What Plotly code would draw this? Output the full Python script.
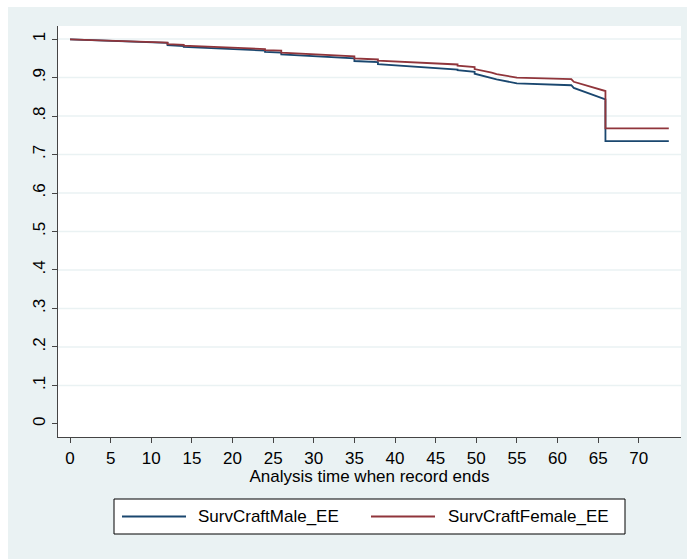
import plotly.graph_objects as go

# Survival estimates (repeated times mark vertical drops)
time_pts = [0, 12, 12, 14, 14, 24, 24, 26, 26, 35, 35, 37.9, 37.9, 47.7, 47.7, 49.8, 49.8,
            50.6, 51.9, 52.5, 55, 61.7, 62, 65.9, 65.9, 73.7]
male_s = [0.999, 0.990, 0.984, 0.982, 0.980, 0.970, 0.967, 0.965, 0.960, 0.950, 0.943, 0.940, 0.935,
          0.921, 0.919, 0.915, 0.910, 0.906, 0.900, 0.895, 0.885, 0.880, 0.873, 0.843, 0.735, 0.735]
female_s = [0.999, 0.991, 0.987, 0.985, 0.983, 0.974, 0.971, 0.970, 0.965, 0.955, 0.950, 0.947, 0.944,
            0.934, 0.931, 0.927, 0.922, 0.919, 0.913, 0.909, 0.900, 0.896, 0.889, 0.865, 0.768, 0.768]
series_names = ["SurvCraftMale_EE", "SurvCraftFemale_EE"]

x_ticks = list(range(0, 75, 5))
y_ticks = [0, 0.1, 0.2, 0.3, 0.4, 0.5, 0.6, 0.7, 0.8, 0.9, 1.0]
y_labels = ["0", ".1", ".2", ".3", ".4", ".5", ".6", ".7", ".8", ".9", "1"]

BLUE = "#1a476f"
RED = "#90353b"
BG = "#eaf2f3"
FONT = "Liberation Sans, Arial, sans-serif"
AX = "#444444"

fig = go.Figure()
fig.add_trace(go.Scatter(x=time_pts, y=male_s, mode="lines", name=series_names[0],
                         line=dict(color=BLUE, width=1.8), showlegend=False))
fig.add_trace(go.Scatter(x=time_pts, y=female_s, mode="lines", name=series_names[1],
                         line=dict(color=RED, width=1.8), showlegend=False))

# pixel -> paper helpers for the plot area (58..681 x, 26..437 y)
def px(x):
    return (x - 58) / 623.0

def py(y):
    return (437 - y) / 411.0

shapes = [
    dict(type="rect", xref="paper", yref="paper", x0=px(8), x1=px(690), y0=py(562), y1=py(7),
         fillcolor=BG, line=dict(width=0), layer="below"),
    dict(type="rect", xref="paper", yref="paper", x0=0, x1=1, y0=0, y1=1,
         fillcolor="white", line=dict(width=0), layer="below"),
]
for v in y_ticks:
    if v > 0:
        shapes.append(dict(type="line", xref="paper", yref="y", x0=0, x1=1, y0=v, y1=v,
                           line=dict(color=BG, width=1.5), layer="below"))

# legend box drawn by hand (Stata style)
shapes.append(dict(type="rect", xref="paper", yref="paper", x0=px(114), x1=px(625),
                   y0=py(534), y1=py(499), fillcolor="white", line=dict(color="#000", width=1)))
ly = py(516.5)
shapes.append(dict(type="line", xref="paper", yref="paper", x0=px(122), x1=px(186), y0=ly, y1=ly,
                   line=dict(color=BLUE, width=1.8)))
shapes.append(dict(type="line", xref="paper", yref="paper", x0=px(371), x1=px(435), y0=ly, y1=ly,
                   line=dict(color=RED, width=1.8)))
annotations = [
    dict(xref="paper", yref="paper", x=px(196), y=ly, text=series_names[0], showarrow=False,
         xanchor="left", yanchor="middle", font=dict(family=FONT, size=17, color="#000")),
    dict(xref="paper", yref="paper", x=px(446), y=ly, text=series_names[1], showarrow=False,
         xanchor="left", yanchor="middle", font=dict(family=FONT, size=17, color="#000")),
]

fig.update_layout(
    width=687, height=559,
    margin=dict(l=58, r=6, t=26, b=122),
    paper_bgcolor="white",
    plot_bgcolor="white",
    font=dict(family=FONT, size=17, color="#000"),
    shapes=shapes,
    annotations=annotations,
    showlegend=False,
    xaxis=dict(
        range=[-1.48, 75.2], tickvals=x_ticks, ticktext=[str(v) for v in x_ticks],
        showgrid=False, zeroline=False, showline=True, linecolor=AX, linewidth=1.2,
        ticks="outside", ticklen=5, tickcolor=AX, tickwidth=1.2,
        tickfont=dict(size=17), automargin=False,
        title=dict(text="Analysis time when record ends", font=dict(size=17), standoff=0),
    ),
    yaxis=dict(
        range=[-0.034, 1.034], tickvals=y_ticks, ticktext=y_labels, tickangle=-90,
        showgrid=False, zeroline=False, showline=True, linecolor=AX, linewidth=1.2,
        ticks="outside", ticklen=5, tickcolor=AX, tickwidth=1.2,
        tickfont=dict(size=17), automargin=False,
    ),
)

fig.write_html("out.html")
